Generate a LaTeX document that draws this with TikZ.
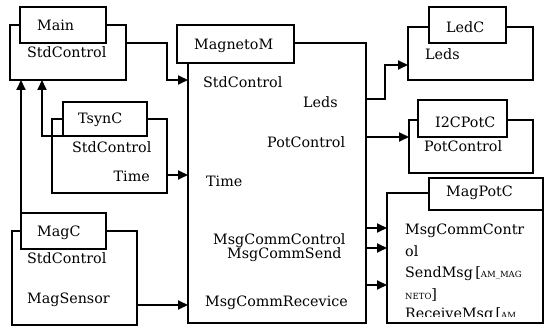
\documentclass[tikz,border=0pt]{standalone}
\usepackage{fontspec}
\setmainfont{DejaVu Serif}
\usetikzlibrary{arrows.meta}
\newcommand{\smallcaps}[1]{{\fontsize{8.5}{8.5}\selectfont #1}}
\tikzset{
  x=1pt, y=-1pt,
  obox/.style={draw, line width=1.8pt, rectangle, inner sep=0pt, outer sep=0pt, anchor=north west},
  lbox/.style={obox, fill=white},
  txt/.style={anchor=base west, inner sep=0pt, font=\fontsize{14.3}{14.3}\selectfont},
  wire/.style={line width=1.8pt},
  arr/.style={wire, -{Triangle[length=10pt,width=9pt]}},
}
\begin{document}
\begin{tikzpicture}
\useasboundingbox (0,0) rectangle (547,326);

% Main
\node[obox, minimum width=116pt, minimum height=55pt] (mainO) at (10,25) {};
\node[lbox, minimum width=86pt, minimum height=36pt] (mainL) at (20,7) {};
\node[txt] (mainT) at (37,31) {Main};
\node[txt] (mainS) at (27,58) {StdControl};

% TsynC
\node[obox, minimum width=115pt, minimum height=74pt] (tsO) at (52,119) {};
\node[lbox, minimum width=84pt, minimum height=34pt] (tsL) at (63,102) {};
\node[txt] (tsT) at (78,124) {TsynC};
\node[txt] (tsS) at (72,153) {StdControl};
\node[txt, anchor=base east] (tsTime) at (150,182) {Time};

% MagC
\node[obox, minimum width=125pt, minimum height=94pt] (mcO) at (12,231) {};
\node[lbox, minimum width=85pt, minimum height=36pt] (mcL) at (21,213) {};
\node[txt] (mcT) at (37,237) {MagC};
\node[txt] (mcS) at (27,264) {StdControl};
\node[txt] (mcM) at (27,303) {MagSensor};

% MagnetoM
\node[obox, minimum width=178pt, minimum height=280pt] (magO) at (188,43) {};
\node[lbox, minimum width=117pt, minimum height=38pt] (magL) at (177,25) {};
\node[txt] (magT) at (194,50) {MagnetoM};
\node[txt] (magS) at (203,88) {StdControl};
\node[txt] (magLeds) at (303,108) {Leds};
\node[txt] (magP) at (267,148) {PotControl};
\node[txt] (magTime) at (206,187) {Time};
\node[txt] (magCC) at (213,245) {MsgCommControl};
\node[txt] (magCS) at (227,259) {MsgCommSend};
\node[txt] (magCR) at (205,307) {MsgCommRecevice};

% LedC
\node[obox, minimum width=125pt, minimum height=53pt] (ledO) at (408,27) {};
\node[lbox, minimum width=77pt, minimum height=36pt] (ledL) at (429,7) {};
\node[txt] (ledT) at (446,33) {LedC};
\node[txt] (ledS) at (425,60) {Leds};

% I2CPotC
\node[obox, minimum width=124pt, minimum height=53pt] (i2cO) at (409,120) {};
\node[lbox, minimum width=89pt, minimum height=37pt] (i2cL) at (418,100) {};
\node[txt] (i2cT) at (435,128) {I2CPotC};
\node[txt] (i2cS) at (424,152) {PotControl};

% MagPotC
\node[obox, minimum width=156pt, minimum height=130pt] (mpO) at (387,193) {};
\node[lbox, minimum width=114pt, minimum height=32pt] (mpL) at (429,178) {};
\node[txt] (mpT) at (446,197) {MagPotC};
\begin{scope}
  \clip (390,215) rectangle (540,317);
  \node[txt] (mp1) at (405,235) {MsgCommContr};
  \node[txt] (mp2) at (405,257) {ol};
  \node[txt] (mp3) at (405,278) {SendMsg\,[\smallcaps{AM\_MAG}};
  \node[txt] (mp4) at (405,300) {\smallcaps{NETO}]};
  \node[txt] (mp5) at (405,319) {ReceiveMsg\,[\smallcaps{AM}};
\end{scope}

% connectors
\draw[arr] (mainO.east |- mainL.south) -- (167,43) -- (167,80) -- (magO.west |- 0,80);
\draw[arr] (mcL.north west) -- (mainO.south -| mcL.north west);
\draw[arr] (tsL.south west) -- (42,136) -- (mainO.south -| 42,0);
\draw[arr] (tsO.east |- 0,175) -- (magO.west |- 0,175);
\draw[arr] (mcO.east |- 0,305) -- (magO.west |- 0,305);
\draw[arr] (magO.east |- 0,99) -- (385,99) -- (385,65) -- (ledO.west |- 0,65);
\draw[arr] (magO.east |- 0,137) -- (i2cO.west |- 0,137);
\draw[arr] (magO.east |- 0,228) -- (mpO.west |- 0,228);
\draw[arr] (magO.east |- 0,248) -- (mpO.west |- 0,248);
\draw[arr] (magO.east |- 0,285) -- (mpO.west |- 0,285);
\end{tikzpicture}
\end{document}
